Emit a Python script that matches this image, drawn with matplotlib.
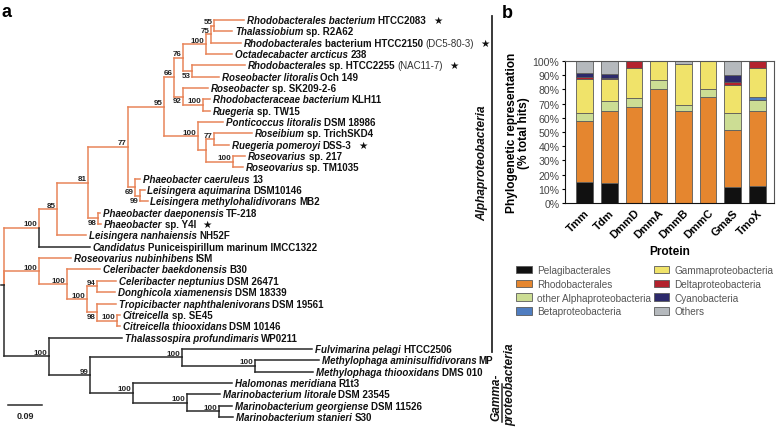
"""
Phylogenetic tree (panel a) and stacked phylogenetic representation bars (panel b).
"""
import numpy as np
import matplotlib.pyplot as plt
from matplotlib.offsetbox import TextArea, HPacker, DrawingArea, AnnotationBbox

# ---------------- panel a data ----------------
# leaves numbered 1..36 top to bottom; branch lengths in substitutions/site
TREE = ("(((((((((((1:0.079,2:0.048)55:0.008,3:0.079)75:0.013,4:0.069)100:0.061,"
        "(5:0.140,6:0.071)53:0.024)76:0.024,(7:0.066,(8:0.019,9:0.019)100:0.053)92:0.024)66:0.026,"
        "(10:0.066,((11:0.101,12:0.040)77:0.021,(13:0.032,14:0.026)100:0.071):0.021)100:0.090)95:0.095,"
        "(15:0.013,(16:0.011,17:0.019)99:0.013)69:0.019)77:0.106,"
        "(18:0.005,19:0.008)98:0.026)81:0.082,20:0.077)85:0.048,21:0.135)100:0.093,"
        "(22:0.085,(23:0.087,((24:0.050,25:0.048)94:0.026,"
        "(26:0.050,(27:0.008,28:0.008)100:0.053)98:0.026)100:0.053)100:0.074)100:0.093,"
        "(29:0.193,((30:0.344,(31:0.169,32:0.154)100:0.193)100:0.244,"
        "(33:0.262,(34:0.087,(35:0.034,36:0.037)100:0.085)100:0.143)100:0.114)99:0.109)100:0.119);")

# (italic part, roman part, note in regular weight, starred)
LEAVES = [
    ("Rhodobacterales bacterium", "HTCC2083", "", True),
    ("Thalassiobium", "sp. R2A62", "", False),
    ("Rhodobacterales", "bacterium HTCC2150", "(DC5-80-3)", True),
    ("Octadecabacter arcticus", "238", "", False),
    ("Rhodobacterales", "sp. HTCC2255", "(NAC11-7)", True),
    ("Roseobacter litoralis", "Och 149", "", False),
    ("Roseobacter", "sp. SK209-2-6", "", False),
    ("Rhodobacteraceae bacterium", "KLH11", "", False),
    ("Ruegeria", "sp. TW15", "", False),
    ("Ponticoccus litoralis", "DSM 18986", "", False),
    ("Roseibium", "sp. TrichSKD4", "", False),
    ("Ruegeria pomeroyi", "DSS-3", "", True),
    ("Roseovarius", "sp. 217", "", False),
    ("Roseovarius", "sp. TM1035", "", False),
    ("Phaeobacter caeruleus", "13", "", False),
    ("Leisingera aquimarina", "DSM10146", "", False),
    ("Leisingera methylohalidivorans", "MB2", "", False),
    ("Phaeobacter daeponensis", "TF-218", "", False),
    ("Phaeobacter", "sp. Y4I", "", True),
    ("Leisingera nanhaiensis", "NH52F", "", False),
    ("Candidatus", "Puniceispirillum marinum IMCC1322", "", False),
    ("Roseovarius nubinhibens", "ISM", "", False),
    ("Celeribacter baekdonensis", "B30", "", False),
    ("Celeribacter neptunius", "DSM 26471", "", False),
    ("Donghicola xiamenensis", "DSM 18339", "", False),
    ("Tropicibacter naphthalenivorans", "DSM 19561", "", False),
    ("Citreicella", "sp. SE45", "", False),
    ("Citreicella thiooxidans", "DSM 10146", "", False),
    ("Thalassospira profundimaris", "WP0211", "", False),
    ("Fulvimarina pelagi", "HTCC2506", "", False),
    ("Methylophaga aminisulfidivorans", "MP", "", False),
    ("Methylophaga thiooxidans", "DMS 010", "", False),
    ("Halomonas meridiana", "R1t3", "", False),
    ("Marinobacterium litorale", "DSM 23545", "", False),
    ("Marinobacterium georgiense", "DSM 11526", "", False),
    ("Marinobacterium stanieri", "S30", "", False),
]
RHODO_LEAVES = set(range(1, 21)) | set(range(22, 29))   # drawn in orange
BELOW_LABEL = [(5, 6), (7, 9), (15, 17), (16, 17), (18, 19), (26, 28)]
ALPHA_LABEL = "Alphaproteobacteria"
GAMMA_LABEL = ("Gamma-", "proteobacteria")
SCALE_BAR = 0.09

# ---------------- panel b data ----------------
proteins = ["Tmm", "Tdm", "DmmD", "DmmA", "DmmB", "DmmC", "GmaS", "TmoX"]
groups = ["Pelagibacterales", "Rhodobacterales", "other Alphaproteobacteria",
          "Betaproteobacteria", "Gammaproteobacteria", "Deltaproteobacteria",
          "Cyanobacteria", "Others"]
pelagibacterales = [15.0, 14.0, 0.0, 0.0, 0.0, 0.0, 11.1, 12.2]
rhodobacterales = [43.0, 51.0, 67.5, 80.5, 64.5, 74.6, 40.0, 52.5]
other_alpha = [5.5, 6.5, 6.6, 5.9, 4.2, 5.4, 12.2, 7.5]
beta = [0.0, 0.0, 0.0, 0.0, 0.0, 0.0, 0.0, 2.2]
gamma = [24.0, 15.8, 21.2, 13.6, 28.9, 20.0, 20.0, 20.9]
delta = [1.2, 1.0, 4.7, 0.0, 0.0, 0.0, 1.9, 4.7]
cyano = [3.0, 2.3, 0.0, 0.0, 0.0, 0.0, 4.7, 0.0]
others = [8.3, 9.4, 0.0, 0.0, 2.4, 0.0, 10.1, 0.0]
group_colors = ["#111111", "#E5862F", "#CCDD94", "#4F7DC0",
                "#F0E36A", "#B3222D", "#2D2A6B", "#B5B9BD"]

ORANGE = "#E8855A"
DARK = "#2a2a2a"
FONT = "Liberation Sans"
W, H = 779, 435
PX_PER_UNIT = 34 / SCALE_BAR
ROW0, ROW_STEP = 21, 11.34


def px_x(p):
    return (p - 4) / PX_PER_UNIT


def px_row(p):
    return (p - ROW0) / ROW_STEP


def parse_newick(s):
    pos = 0

    def node():
        nonlocal pos
        children = []
        if s[pos] == "(":
            pos += 1
            while True:
                children.append(node())
                if s[pos] == ",":
                    pos += 1
                    continue
                pos += 1
                break
        start = pos
        while s[pos] not in ":,);":
            pos += 1
        label = s[start:pos]
        bl = 0.0
        if s[pos] == ":":
            pos += 1
            start = pos
            while s[pos] not in ",);":
                pos += 1
            bl = float(s[start:pos])
        return {"children": children, "label": label, "bl": bl}

    return node()


def layout(n, x0):
    n["x"] = x0 + n["bl"]
    if not n["children"]:
        n["leaves"] = [int(n["label"])]
        n["y"] = int(n["label"]) - 1
    else:
        for c in n["children"]:
            layout(c, n["x"])
        n["leaves"] = sorted(l for c in n["children"] for l in c["leaves"])
        n["y"] = np.mean([c["y"] for c in n["children"]])
    n["color"] = ORANGE if any(l in RHODO_LEAVES for l in n["leaves"]) else DARK


def draw_tree(ax, n):
    for c in n["children"]:
        kw = dict(color=c["color"], lw=1.1, solid_capstyle="projecting")
        ax.plot([n["x"], n["x"]], [n["y"], c["y"]], **kw)
        ax.plot([n["x"], c["x"]], [c["y"], c["y"]], **kw)
        draw_tree(ax, c)
    if n["children"] and n["label"] and n["bl"] > 0:
        below = (n["leaves"][0], n["leaves"][-1]) in BELOW_LABEL
        ax.annotate(n["label"], (n["x"], n["y"]), xytext=(-1.2, -0.6 if below else 0.4),
                    textcoords="offset points", ha="right",
                    va="top" if below else "bottom", fontsize=5.8,
                    fontweight="bold", family=FONT, color="#222")


def leaf_label(ax, tip_x, row, italic, roman, note, star):
    base = dict(family=FONT, fontsize=7.0, fontweight="bold", color="#111")
    parts = [TextArea(italic, textprops=dict(base, fontstyle="italic"))]
    if roman:
        parts.append(TextArea(roman, textprops=base))
    if note:
        parts.append(TextArea(note, textprops=dict(base, fontweight="normal", color="#333")))
    if star:
        parts.append(DrawingArea(1.5, 1))
        parts.append(TextArea("\u2605", textprops=dict(family="DejaVu Sans", fontsize=7.5,
                                                         color="#111")))
    pack = HPacker(children=parts, align="baseline", pad=0, sep=1.7)
    ab = AnnotationBbox(pack, (tip_x, row), xybox=(2.0, 0), xycoords="data",
                        boxcoords="offset points", box_alignment=(0, 0.5),
                        frameon=False, pad=0)
    ax.add_artist(ab)


fig = plt.figure(figsize=(W / 100, H / 100), dpi=100)

# ---------------- panel a ----------------
ax = fig.add_axes([0, 0, 1, 1])
ax.set_xlim(px_x(0), px_x(W))
ax.set_ylim(px_row(H), px_row(0))
ax.axis("off")

root = parse_newick(TREE)
layout(root, 0.0)
draw_tree(ax, root)
ax.plot([px_x(1), 0], [root["y"], root["y"]], color=DARK, lw=1.1)

leaf_nodes = []


def collect(n):
    if not n["children"]:
        leaf_nodes.append(n)
    for c in n["children"]:
        collect(c)


collect(root)
for n in leaf_nodes:
    italic, roman, note, star = LEAVES[int(n["label"]) - 1]
    leaf_label(ax, n["x"], n["y"], italic, roman, note, star)

# scale bar
sb_x0 = px_x(8)
sb_row = px_row(406)
ax.plot([sb_x0, sb_x0 + SCALE_BAR], [sb_row, sb_row], color=DARK, lw=1.1)
ax.text(sb_x0 + SCALE_BAR / 2, sb_row + 0.5, f"{SCALE_BAR:.2f}", ha="center", va="top",
        fontsize=6.5, fontweight="bold", family=FONT, color="#222")

# clade labels
clade_kw = dict(rotation=90, va="center", fontsize=8.6, fontweight="bold",
                fontstyle="italic", family=FONT, color="#111")
ax.plot([px_x(492)] * 2, [px_row(17), px_row(353)], color=DARK, lw=1.3)
ax.text(px_x(482), px_row(163), ALPHA_LABEL, ha="center", **clade_kw)
ax.text(px_x(496), px_row(397), GAMMA_LABEL[0], ha="center", **clade_kw)
ax.plot([px_x(502)] * 2, [px_row(385), px_row(423)], color=DARK, lw=1.1)
ax.text(px_x(510), px_row(385), GAMMA_LABEL[1], ha="center", **clade_kw)

fig.text(2 / W, 1 - 4 / H, "a", fontsize=13, fontweight="bold", family=FONT, va="top")
fig.text(502 / W, 1 - 5 / H, "b", fontsize=13, fontweight="bold", family=FONT, va="top")

# ---------------- panel b ----------------
bx_ax = fig.add_axes([565 / W, 1 - 204 / H, 209 / W, 142 / H])
series = [pelagibacterales, rhodobacterales, other_alpha, beta, gamma, delta, cyano, others]
xpos = np.arange(len(proteins))
bottom = np.zeros(len(proteins))
handles = []
for name, vals, col in zip(groups, series, group_colors):
    vals = np.asarray(vals)
    keep = vals > 0
    h = bx_ax.bar(xpos[keep], vals[keep], 0.68, bottom=bottom[keep], color=col,
                  edgecolor="#5a5a5a", linewidth=0.6, label=name)
    handles.append(h)
    bottom += vals

bx_ax.set_xlim(-0.79, len(proteins) - 0.33)
bx_ax.set_ylim(0, 100)
bx_ax.set_yticks(np.arange(0, 101, 10))
bx_ax.set_yticklabels([f"{v}%" for v in range(0, 101, 10)])
bx_ax.set_xticks(xpos)
bx_ax.set_xticklabels(proteins, rotation=45, ha="right", rotation_mode="anchor")
for lab in bx_ax.get_xticklabels():
    lab.set_fontweight("bold")
    lab.set_fontsize(8)
    lab.set_family(FONT)
for lab in bx_ax.get_yticklabels():
    lab.set_fontsize(7.6)
    lab.set_family(FONT)
    lab.set_color("#444")
bx_ax.tick_params(axis="x", length=0, pad=3)
bx_ax.tick_params(axis="y", length=2.5, width=0.8, pad=1.5)
for sp in bx_ax.spines.values():
    sp.set_linewidth(0.8)
    sp.set_color("#555")
bx_ax.spines["left"].set_color("#111")
bx_ax.spines["bottom"].set_color("#111")
bx_ax.set_xlabel("Protein", fontsize=8.6, fontweight="bold", family=FONT, labelpad=4)
bx_ax.set_ylabel("Phylogenetic representation\n(% total hits)", fontsize=8.6,
                 fontweight="bold", family=FONT, linespacing=1.0, labelpad=2)

leg = fig.legend(handles=handles, labels=groups, ncol=2, loc="upper left",
                 bbox_to_anchor=(511 / W, 1 - 261 / H), frameon=False,
                 prop=dict(family=FONT, size=7.2), handlelength=1.55, handleheight=0.8,
                 columnspacing=0.25, labelspacing=0.38, handletextpad=0.55, borderpad=0)
for t in leg.get_texts():
    t.set_color("#555")

fig.savefig("out.png", dpi=100)
